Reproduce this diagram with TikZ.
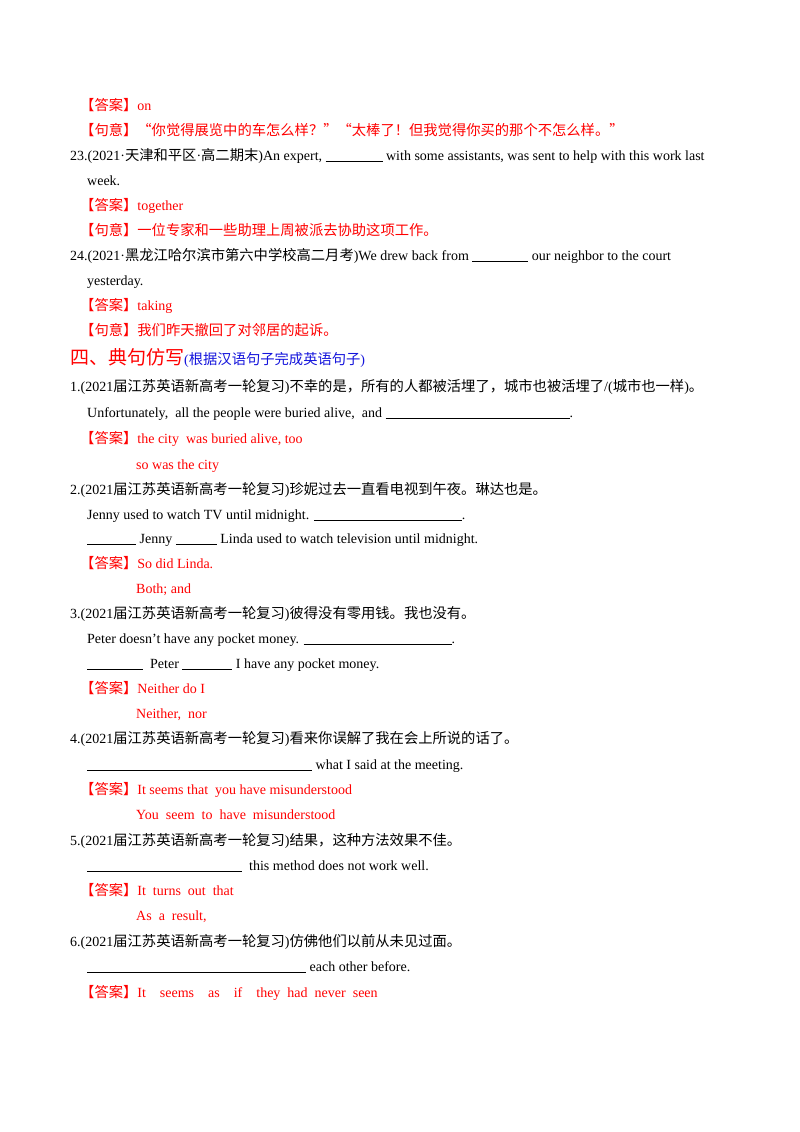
\documentclass[tikz,border=0pt]{standalone}
\usepackage{fontspec}
\setmainfont{Liberation Serif}
\newfontfamily\cjk{Noto Sans CJK SC}
\newcommand{\zh}[1]{{\cjk\fontsize{14.3}{16}\selectfont #1}}
\newcommand{\blank}[1]{\rule[-1.5pt]{#1pt}{0.6pt}}
\definecolor{ansred}{RGB}{255,0,0}
\definecolor{noteblue}{RGB}{20,20,220}
\tikzset{
  line/.style={anchor=base west, inner sep=0pt, font=\fontsize{14}{16}\selectfont},
  ans/.style={line, text=ansred}
}
\begin{document}
\begin{tikzpicture}[x=1pt,y=-1pt]
\useasboundingbox[fill=white] (0,0) rectangle (800,1132);

% item 22 (tail)
\node[ans] (a22) at (80,110) {\zh{【答案】}on};
\node[ans] (m22) at (80,135) {\zh{【句意】“你觉得展览中的车怎么样？”“太棒了！但我觉得你买的那个不怎么样。”}};

% item 23
\node[line] (q23) at (70,160) {23.(2021·\zh{天津和平区}·\zh{高二期末})An expert, \blank{57} with some assistants, was sent to help with this work last};
\node[line] (q23b) at (87,185) {week.};
\node[ans] (a23) at (80,210) {\zh{【答案】}together};
\node[ans] (m23) at (80,235) {\zh{【句意】一位专家和一些助理上周被派去协助这项工作。}};

% item 24
\node[line] (q24) at (70,260) {24.(2021·\zh{黑龙江哈尔滨市第六中学校高二月考})We drew back from \blank{56} our neighbor to the court};
\node[line] (q24b) at (87,285) {yesterday.};
\node[ans] (a24) at (80,310) {\zh{【答案】}taking};
\node[ans] (m24) at (80,335) {\zh{【句意】我们昨天撤回了对邻居的起诉。}};

% section heading
\node[line, text=ansred] (sec) at (70,364) {{\cjk\fontsize{19}{21}\selectfont 四、典句仿写}\textcolor{noteblue}{(\zh{根据汉语句子完成英语句子})}};

% 1
\node[line] (q1) at (70,391) {1.(2021\zh{届江苏英语新高考一轮复习})\zh{不幸的是，所有的人都被活埋了，城市也被活埋了}/(\zh{城市也一样})\zh{。}};
\node[line] (q1b) at (87,417) {Unfortunately,\ \ all the people were buried alive,\ \ and \blank{184}.};
\node[ans] (a1) at (80,443) {\zh{【答案】}the city\ \ was buried alive, too};
\node[ans] (a1b) at (136,469) {so was the city};

% 2
\node[line] (q2) at (70,494) {2.(2021\zh{届江苏英语新高考一轮复习})\zh{珍妮过去一直看电视到午夜。琳达也是。}};
\node[line] (q2b) at (87,519) {Jenny used to watch TV until midnight. \blank{148}.};
\node[line] (q2c) at (87,543) {\blank{49} Jenny \blank{41} Linda used to watch television until midnight.};
\node[ans] (a2) at (80,568) {\zh{【答案】}So did Linda.};
\node[ans] (a2b) at (136,593) {Both; and};

% 3
\node[line] (q3) at (70,618) {3.(2021\zh{届江苏英语新高考一轮复习})\zh{彼得没有零用钱。我也没有。}};
\node[line] (q3b) at (87,643) {Peter doesn’t have any pocket money. \blank{148}.};
\node[line] (q3c) at (87,668) {\blank{56}\ \ Peter \blank{50} I have any pocket money.};
\node[ans] (a3) at (80,693) {\zh{【答案】}Neither do I};
\node[ans] (a3b) at (136,718) {Neither,\ \ nor};

% 4
\node[line] (q4) at (70,743) {4.(2021\zh{届江苏英语新高考一轮复习})\zh{看来你误解了我在会上所说的话了。}};
\node[line] (q4b) at (87,769) {\blank{225} what I said at the meeting.};
\node[ans] (a4) at (80,794) {\zh{【答案】}It seems that\ \ you have misunderstood};
\node[ans] (a4b) at (136,819) {You\ \ seem\ \ to\ \ have\ \ misunderstood};

% 5
\node[line] (q5) at (70,845) {5.(2021\zh{届江苏英语新高考一轮复习})\zh{结果，这种方法效果不佳。}};
\node[line] (q5b) at (87,870) {\blank{155}\ \ this method does not work well.};
\node[ans] (a5) at (80,895) {\zh{【答案】}It\ \ turns\ \ out\ \ that};
\node[ans] (a5b) at (136,920) {As\ \ a\ \ result,};

% 6
\node[line] (q6) at (70,946) {6.(2021\zh{届江苏英语新高考一轮复习})\zh{仿佛他们以前从未见过面。}};
\node[line] (q6b) at (87,971) {\blank{219} each other before.};
\node[ans] (a6) at (80,997) {\zh{【答案】}It\ \ \ \ seems\ \ \ \ as\ \ \ \ if\ \ \ \ they\ \ had\ \ never\ \ seen};
\end{tikzpicture}
\end{document}
